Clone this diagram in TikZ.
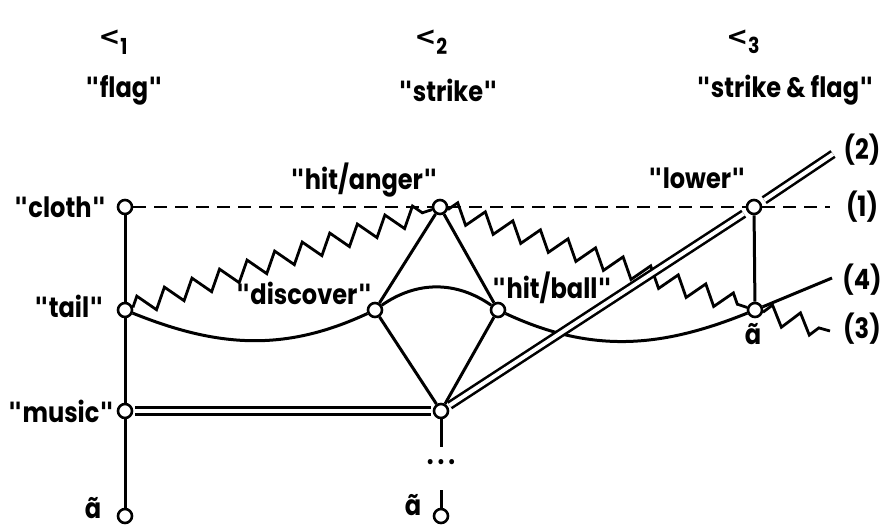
\documentclass[tikz,border=0pt]{standalone}
\usepackage{fontspec}
\setmainfont{Poppins}[FakeStretch=0.86]
\newfontfamily\qfont{DejaVu Sans}
\newcommand\qq{{\qfont\bfseries"}}
\newcommand\lt[1]{{\qfont\fontsize{26}{26}\selectfont<}\raisebox{-0.55ex}{\fontsize{22}{24}\selectfont #1}}
\usetikzlibrary{decorations.pathmorphing}
\begin{document}
\begin{tikzpicture}[x=1pt,y=-1pt,
  vtx/.style={circle,draw,fill=white,line width=2.6pt,inner sep=0pt,minimum size=14pt},
  lab/.style={font=\fontsize{28}{30}\selectfont\bfseries, inner sep=0pt},
  hdr/.style={font=\fontsize{28}{30}\selectfont\bfseries, inner sep=0pt},
  ln/.style={line width=3pt},
  zz/.style={line width=2.8pt, decorate, decoration={zigzag,segment length=29pt,amplitude=9.5pt}},
  dbl/.style={double, double distance=4pt, line width=2.6pt},
  dsh/.style={line width=2.8pt, dash pattern=on 13pt off 8pt},
]
\useasboundingbox (0,0) rectangle (893,528);

% vertices
\node[vtx] (cl) at (125,207) {};
\node[vtx] (ta) at (125,310) {};
\node[vtx] (mu) at (125,411) {};
\node[vtx] (bl) at (125,516) {};
\node[vtx] (ha) at (440,207) {};
\node[vtx] (di) at (375,310) {};
\node[vtx] (hb) at (498,310) {};
\node[vtx] (m2) at (441,411) {};
\node[vtx] (bm) at (441,516) {};
\node[vtx] (lo) at (754,207) {};
\node[vtx] (ar) at (755,310) {};
\coordinate (c1) at (830,207);
\coordinate (c2) at (833,154);
\coordinate (c4) at (832,278);
\coordinate (c3) at (830,331);
\coordinate (mv) at (441,447);
\coordinate (bv) at (441,490);

% left column
\draw[ln] (cl) -- (ta);
\draw[ln] (ta) -- (mu);
\draw[ln] (mu) -- (bl);
% middle column
\draw[ln] (m2) -- (mv);
\draw[ln] (bv) -- (bm);
\node[lab] (dots) at (441,462) {.\hspace{4pt}.\hspace{4pt}.};
% right column
\draw[ln] (lo) -- (ar);

% diamond
\draw[ln] (ha) -- (di);
\draw[ln] (ha) -- (hb);
\draw[ln] (di) -- (m2);
\draw[ln] (hb) -- (m2);

% dashed line (1)
\draw[dsh] (cl) -- (ha);
\draw[dsh] (ha) -- (lo);
\draw[dsh] (lo) -- (c1);

% wavy curve (4)
\draw[ln] (ta) to[out=-22,in=205] (di);
\draw[ln] (di) to[out=35,in=145] (hb);
\draw[ln] (hb) to[out=-25,in=202] (ar);
\draw[ln] (ar) -- (c4);

% zigzag (3)
\draw[zz] (ta) -- (ha);
\draw[zz] (ha) -- (ar);
\draw[zz] (ar) -- (c3);

% double line (2)
\draw[dbl, shorten <=2pt, shorten >=2pt] (mu) -- (m2);
\draw[dbl, shorten <=2pt, shorten >=4pt] (m2) -- (lo);
\draw[dbl, shorten <=4pt] (lo) -- (c2);

% labels
\node[lab] (lcl) at (60,207) {\qq cloth\qq};
\node[lab] (lta) at (69,306) {\qq tail\qq};
\node[lab] (lmu) at (61,411) {\qq music\qq};
\node[lab] (lbl) at (93,508) {ã};
\node[lab] (lbm) at (413,505) {ã};
\node[lab] (lha) at (364,180) {\qq hit/anger\qq};
\node[lab] (ldi) at (304,293) {\qq discover\qq};
\node[lab] (lhb) at (552,288) {\qq hit/ball\qq};
\node[lab] (llo) at (697,178) {\qq lower\qq};
\node[lab] (lar) at (753,334) {ã};
\node[lab] (l1) at (862,207) {(1)};
\node[lab] (l2) at (862,150) {(2)};
\node[lab] (l4) at (862,280) {(4)};
\node[lab] (l3) at (862,329) {(3)};

% headers
\node[hdr] (h1) at (113,42) {\lt{1}};
\node[hdr] (f1) at (124,90) {\qq flag\qq};
\node[hdr] (h2) at (431,42) {\lt{2}};
\node[hdr] (f2) at (448,90) {\qq strike\qq};
\node[hdr] (h3) at (743,42) {\lt{3}};
\node[hdr] (f3) at (785,90) {\qq strike \& flag\qq};
\end{tikzpicture}
\end{document}
